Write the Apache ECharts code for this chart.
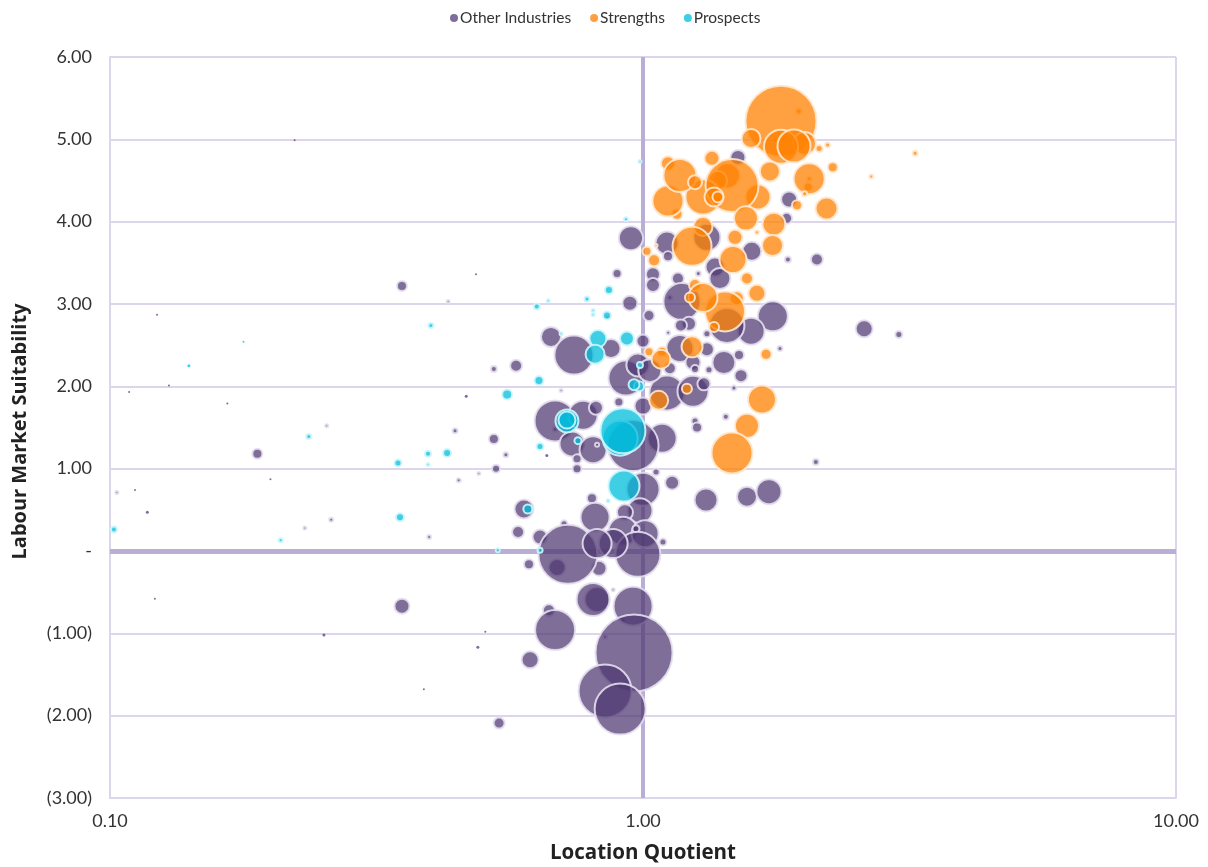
<!DOCTYPE html>
<html>
<head>
<meta charset="utf-8">
<title>Location Quotient vs Labour Market Suitability</title>
<script src="https://cdn.jsdelivr.net/npm/echarts@6/dist/echarts.min.js"></script>
<style>
  html, body { margin: 0; padding: 0; background: #fff; }
  #chart { width: 1208px; height: 867px; }
</style>
</head>
<body>
<div id="chart"></div>
<script>
// [location quotient, labour market suitability, weight]
var otherIndustries = [
  [0.69,-0.2,324],[0.827,-0.21,256],[0.666,-0.72,169],[0.82,-0.59,676],[0.917,-0.84,36],[0.849,-1.04,25],
  [0.711,0.33,64],[0.641,0.17,256],[1.123,3.08,36],[0.684,1.48,36],
  [1.507,4.78,256],[1.88,4.27,289],[1.86,4.04,144],[1.87,3.54,49],[2.12,3.54,169],[1.6,3.64,400],
  [0.949,3.8,625],[1.109,3.74,576],[1.318,3.81,784],[1.114,3.58,121],[1.365,3.45,400],[1.394,3.31,484],
  [1.27,3.37,36],[0.894,3.37,100],[1.044,3.36,225],[1.044,3.23,225],[1.163,3.31,169],[1.183,3.03,1444],
  [0.945,3.01,256],[1.026,2.86,144],[1.752,2.85,961],[1.595,2.67,784],[1.437,2.74,1296],[2.6,2.7,324],
  [3.02,2.63,64],[1.807,2.46,36],[1.514,2.38,121],[1.418,2.29,576],[1.173,2.46,784],[1.22,2.76,225],
  [1.178,2.74,169],[1.318,2.45,225],[1.318,2.64,64],[0.672,2.6,441],[0.742,2.38,1600],[0.871,2.46,400],
  [0.856,2.84,16],[1.0,2.55,196],[1.115,2.65,25],[0.525,2.21,49],[0.578,2.25,169],[1.527,2.13,196],
  [1.241,2.29,256],[1.252,2.21,81],[1.33,2.2,64],[1.123,2.22,169],[1.109,1.92,1296],[1.241,1.94,1024],
  [1.301,2.03,196],[1.481,1.98,36],[1.0,1.76,324],[0.929,2.1,1296],[0.978,2.26,576],[1.03,2.19,576],
  [0.684,1.58,1764],[0.772,1.65,900],[0.816,1.74,225],[0.901,1.81,100],[0.736,1.3,676],[0.806,1.23,784],
  [0.82,1.29,25],[0.752,1.12,100],[0.752,1.0,100],[0.525,1.36,121],[0.553,1.17,36],[0.53,1.0,81],
  [0.702,1.95,16],[0.66,1.16,9],[1.086,1.37,900],[0.958,1.28,2704],[1.252,1.58,64],[1.263,1.5,121],
  [1.43,1.63,49],[2.11,1.08,49],[1.058,0.96,64],[1.134,0.83,225],[1.313,0.62,576],[1.567,0.66,441],
  [1.723,0.72,676],[1.0,0.75,1156],[0.987,0.49,676],[0.802,0.64,121],[0.813,0.41,900],[0.925,0.47,289],
  [0.917,0.24,900],[1.009,0.21,784],[0.97,0.27,64],[0.978,-0.04,2116],[0.879,0.09,900],
  [0.723,-0.04,3600],[0.82,0.09,900],[0.598,0.51,400],[0.583,0.23,169],
  [0.611,-0.16,121],[1.09,0.11,64],[0.806,-0.59,1156],[0.958,-0.67,1600],
  [0.879,-0.47,16],[0.962,-1.24,6084],[0.684,-0.96,1681],
  [0.614,-1.32,324],[0.849,-1.7,2916],[0.906,-1.92,2704],[0.537,-2.09,144],[0.353,-0.67,256],[0.353,3.22,121],
  [0.189,1.18,121],[0.431,3.03,16],[0.1225,2.87,4],[0.1086,1.93,4],[0.129,2.01,4],[0.166,1.79,4],
  [0.466,1.88,9],[0.255,1.52,16],[0.444,1.46,36],[0.492,0.94,16],[0.451,0.86,25],[0.2,0.87,4],
  [0.103,0.71,16],[0.1114,0.74,4],[0.1175,0.47,9],[0.26,0.38,25],[0.232,0.28,16],[0.397,0.17,25],
  [0.222,4.99,4],[0.486,3.36,4],[0.1214,-0.58,4],[0.252,-1.02,9],[0.506,-0.98,4],[0.49,-1.17,9],[0.388,-1.68,4]
];
var strengths = [
  [1.96,5.34,49],[2.04,4.42,100],[2.05,4.52,36],[1.44,4.56,676],[1.38,4.5,400],
  [1.815,5.22,5184],[1.595,5.01,400],[2.01,4.95,576],[1.815,4.91,1225],[1.92,4.92,1156],
  [2.14,4.89,64],[2.22,4.93,36],[3.24,4.83,36],[2.68,4.55,25],[2.27,4.66,121],[2.05,4.52,1024],
  [2.01,4.34,36],[2.21,4.16,529],[1.945,4.2,121],[1.73,4.61,441],[1.296,4.3,1296],
  [1.643,4.3,676],[1.469,4.44,2916],[1.347,4.77,256],[1.114,4.71,225],[1.158,4.09,144],[1.114,4.25,1024],
  [1.173,4.56,1156],[1.252,4.48,225],[1.359,4.3,400],[1.382,4.3,144],[1.56,4.04,625],
  [1.76,3.97,576],[1.75,3.71,484],[1.636,3.87,25],[1.296,3.94,400],[1.236,3.7,1600],[1.488,3.81,256],
  [1.475,3.54,784],[1.017,3.64,100],[1.049,3.53,169],[1.058,3.71,16],[1.567,3.31,169],[1.636,3.13,324],
  [1.252,3.23,169],[1.5,3.07,225],[1.425,2.91,1681],[1.296,3.08,900],[1.225,3.08,121],[1.359,2.72,121],
  [1.702,2.39,144],[1.026,2.42,100],[1.086,2.42,121],[1.081,2.33,400],[1.236,2.48,484],[1.07,1.83,400],
  [1.209,1.97,121],[1.672,1.84,841],[1.567,1.52,625],[1.469,1.19,1764]
];
var prospects = [
  [0.906,1.37,1296],
  [0.987,4.73,16],[0.929,4.03,25],[0.863,3.17,81],[0.785,3.06,36],[0.664,3.04,16],[0.632,2.97,49],
  [0.806,2.92,16],[0.806,2.87,16],[0.856,2.86,81],[0.702,2.64,16],[0.823,2.58,324],[0.933,2.58,225],
  [0.813,2.39,400],[0.987,2.26,49],[0.638,2.07,100],[0.556,1.9,121],[0.983,2.0,121],[0.962,2.02,144],
  [0.72,1.58,576],[0.72,1.59,324],[0.917,1.46,2116],[0.755,1.34,64],[0.641,1.27,64],
  [0.921,0.79,1024],[0.608,0.51,100],[0.86,0.61,16],[0.534,0.01,25],[0.641,0.01,36],[0.4,2.74,36],
  [0.178,2.54,4],[0.1406,2.25,9],[0.236,1.39,36],[0.395,1.18,49],[0.429,1.19,81],[0.347,1.07,64],
  [0.395,1.05,16],[0.35,0.41,81],[0.209,0.13,25],[0.1017,0.26,49]
];
var seriesNames = ['Other Industries', 'Strengths', 'Prospects'];
var yTickLabels = { '-3': '(3.00)', '-2': '(2.00)', '-1': '(1.00)', '0': '-' };

var gridColor = '#ddd5ec';
var crossColor = '#b9aed6';
var textColor = '#333';
var font = 'Lato';

function bubble(name, rows, fill, ring, legendColor) {
  return {
    name: name,
    type: 'scatter',
    z: 3,
    itemStyle: { color: legendColor, opacity: 1 },
    data: rows.map(function (r) {
      var d = Math.sqrt(r[2]);
      return {
        value: r,
        symbolSize: d <= 3 ? d : d - 1,
        itemStyle: {
          color: fill,
          opacity: 1,
          borderColor: ring,
          borderWidth: d <= 3 ? 0 : 2
        }
      };
    })
  };
}

var series = [
  bubble(seriesNames[0], otherIndustries, 'rgba(80,56,114,0.73)', 'rgba(228,222,238,0.9)', '#7f6d9b'),
  bubble(seriesNames[1], strengths, 'rgba(255,130,0,0.75)', 'rgba(255,232,208,0.9)', '#ff9f40'),
  bubble(seriesNames[2], prospects, 'rgba(0,190,220,0.75)', 'rgba(205,246,252,0.9)', '#3dd0e4')
];
series[0].markLine = {
  silent: true,
  symbol: 'none',
  label: { show: false },
  animation: false,
  z: 1,
  data: [
    { xAxis: 1, lineStyle: { color: crossColor, width: 4, type: 'solid' } },
    { yAxis: 0, lineStyle: { color: crossColor, width: 5, type: 'solid' } }
  ]
};

var chart = echarts.init(document.getElementById('chart'));
chart.setOption({
  animation: false,
  backgroundColor: '#fff',
  textStyle: { fontFamily: font },
  legend: {
    top: 5,
    left: 445,
    icon: 'circle',
    itemWidth: 8,
    itemHeight: 8,
    itemGap: 19,
    textStyle: { fontFamily: font, fontSize: 15.5, color: textColor, padding: [0, 0, 0, -3] },
    data: seriesNames
  },
  grid: { left: 110, right: 32, top: 57, bottom: 69, outerBoundsMode: 'none' },
  xAxis: {
    type: 'log',
    logBase: 10,
    min: 0.1,
    max: 10,
    name: 'Location Quotient',
    nameLocation: 'middle',
    nameGap: 45,
    nameTextStyle: { fontFamily: 'Open Sans', fontSize: 20.5, fontWeight: 'bold', color: '#222' },
    axisLine: { show: true, onZero: false, lineStyle: { color: gridColor, width: 2 } },
    axisTick: { show: false },
    minorTick: { show: false },
    axisLabel: {
      fontFamily: font, fontSize: 18, color: textColor, margin: 14,
      formatter: function (v) { return Number(v).toFixed(2); }
    },
    splitLine: { show: true, lineStyle: { color: gridColor, width: 2 } }
  },
  yAxis: {
    type: 'value',
    min: -3,
    max: 6,
    interval: 1,
    name: 'Labour Market Suitability',
    nameLocation: 'middle',
    nameGap: 80,
    nameTextStyle: { fontFamily: 'Open Sans', fontSize: 20, fontWeight: 'bold', color: '#222', padding: [0, 8, 0, 0] },
    axisLine: { show: true, onZero: false, lineStyle: { color: gridColor, width: 2 } },
    axisTick: { show: false },
    axisLabel: {
      fontFamily: font, fontSize: 18, color: textColor, margin: 18,
      formatter: function (v) {
        return yTickLabels[v] !== undefined ? yTickLabels[v] : v.toFixed(2);
      }
    },
    splitLine: { show: true, lineStyle: { color: gridColor, width: 2 } }
  },
  series: series
});
</script>
</body>
</html>
